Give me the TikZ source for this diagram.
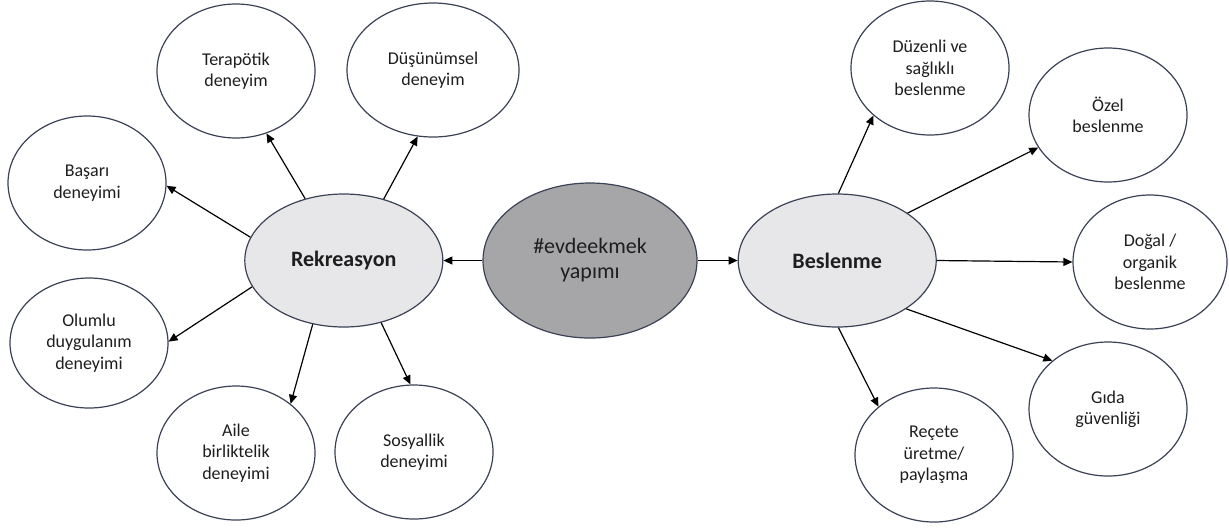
\documentclass[tikz,border=0pt]{standalone}
\usepackage{fontspec}
\setmainfont{Carlito}
\usetikzlibrary{arrows.meta, positioning, shapes.geometric}
\definecolor{rim}{HTML}{3B4256}
\definecolor{hubfill}{HTML}{A6A6A8}
\definecolor{themefill}{HTML}{E7E6E9}
\definecolor{ink}{HTML}{1E1E1E}

\begin{document}
\begin{tikzpicture}[
  x=0.5pt, y=-0.5pt,
  >={Triangle[length=4.5pt, width=4pt]},
  every node/.style={text=ink, align=center},
  hub/.style={ellipse, draw=rim, fill=hubfill, line width=0.6pt,
              minimum width=107pt, minimum height=77.5pt, inner sep=0pt,
              font=\fontsize{11}{12.5}\selectfont},
  theme/.style={ellipse, draw=rim, fill=themefill, line width=0.6pt,
                minimum width=99pt, minimum height=66.5pt, inner sep=0pt,
                font=\fontsize{11}{13}\selectfont\bfseries},
  item/.style={ellipse, draw=rim, fill=white, line width=0.6pt,
               minimum width=79pt, minimum height=67pt, inner sep=0pt,
               font=\fontsize{9}{10.7}\selectfont},
  link/.style={->, line width=0.6pt, color=black}
]
  \useasboundingbox (0,0) rectangle (1229,527);

  \node[hub] (bread) at (590,260.5) {\#evdeekmek\\yapımı};
  \node[theme, left=19.5pt of bread] (rek) {Rekreasyon};
  \node[theme, right=20pt of bread] (bes) {Beslenme};

  \draw[link] (bread.west) -- (rek.east);
  \draw[link] (bread.east) -- (bes.west);

  % Rekreasyon side
  \node[item] (bas) at (87,183) {Başarı\\deneyimi};
  \node[item] (ter) at (236,71) {Terapötik\\deneyim};
  \node[item, minimum width=86pt] (dus) at (433,70) {Düşünümsel\\deneyim};
  \node[item, minimum height=65pt] (olu) at (89,343) {Olumlu\\duygulanım\\deneyimi};
  \node[item] (ail) at (236,453) {Aile\\birliktelik\\deneyimi};
  \node[item] (sos) at (414,452) {Sosyallik\\deneyimi};

  \draw[link] (rek.166) -- (bas.-2);
  \draw[link] (rek.122) -- (ter.-64);
  \draw[link] (rek.57)  -- (dus.-103);
  \draw[link] (rek.196) -- (olu.1);
  \draw[link] (rek.244) -- (ail.42);
  \draw[link] (rek.301) -- (sos.93);

  % Beslenme side
  \node[item] (duz) at (930,68) {Düzenli ve\\sağlıklı\\beslenme};
  \node[item] (oze) at (1108,115) {Özel\\beslenme};
  \node[item, minimum width=77pt] (dog) at (1150,262) {Doğal /\\organik\\beslenme};
  \node[item] (gid) at (1108,409) {Gıda\\güvenliği};
  \node[item] (rec) at (934,455) {Reçete\\üretme/\\paylaşma};

  \draw[link] (bes.89)  -- (duz.220);
  \draw[link] (bes.34)  -- (oze.205);
  \draw[link] (bes.east) -- (dog.west);
  \draw[link] (bes.-35) -- (gid.139);
  \draw[link] (bes.-89) -- (rec.139);
\end{tikzpicture}
\end{document}
